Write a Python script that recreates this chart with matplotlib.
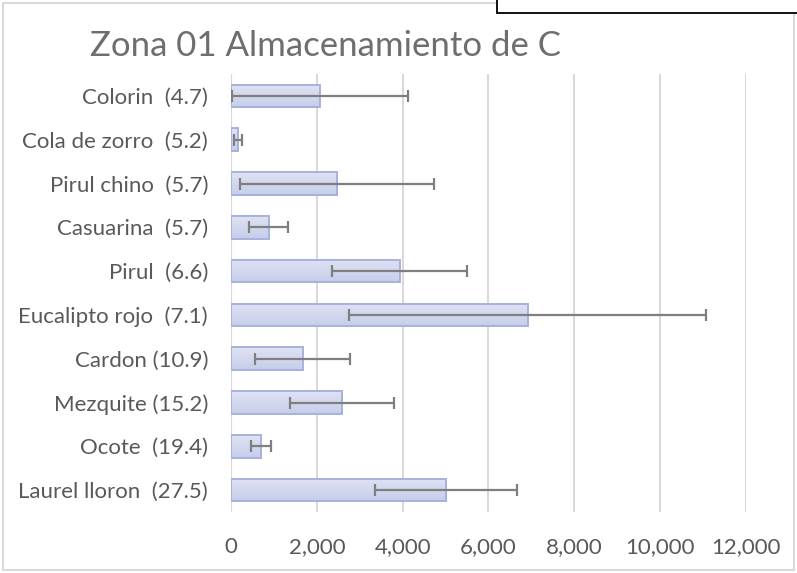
import matplotlib
matplotlib.use("Agg")
import matplotlib.pyplot as plt
import numpy as np
from matplotlib.patches import Rectangle
from matplotlib.ticker import FuncFormatter
from matplotlib.colors import LinearSegmentedColormap

categories = ["Colorin  (4.7)", "Cola de zorro  (5.2)", "Pirul chino  (5.7)", "Casuarina  (5.7)",
              "Pirul  (6.6)", "Eucalipto rojo  (7.1)", "Cardon (10.9)", "Mezquite (15.2)",
              "Ocote  (19.4)", "Laurel lloron  (27.5)"]
values = [2070, 160, 2470, 880, 3930, 6910, 1670, 2590, 700, 5010]
errors = [2050, 100, 2250, 450, 1570, 4150, 1110, 1210, 230, 1660]
xticks = [0, 2000, 4000, 6000, 8000, 10000, 12000]
title = "Zona 01 Almacenamiento de C"

plt.rcParams['font.family'] = ['Lato', 'DejaVu Sans']
W, H = 797, 573
fig = plt.figure(figsize=(W/100, H/100), dpi=100)

def fx(px): return px / W
def fy(py): return 1 - py / H

ax = fig.add_axes([fx(231), fy(512), fx(746) - fx(231), fy(74) - fy(512)])
y = np.arange(len(categories))
bars = ax.barh(y, values, height=0.52, color='none', edgecolor='#a6b2dd', linewidth=1.4, zorder=3)
grad = np.linspace(0, 1, 64).reshape(-1, 1)
cmap = LinearSegmentedColormap.from_list('g', ['#dfe3f3', '#c6cdea'])
for b in bars:
    x0, y0 = b.get_x(), b.get_y()
    w, h = b.get_width(), b.get_height()
    im = ax.imshow(grad, extent=(x0, x0 + w, y0 + h, y0), cmap=cmap, aspect='auto', zorder=2,
                   interpolation='bilinear')
    im.set_clip_path(b)
ax.errorbar(values, y, xerr=errors, fmt='none', ecolor='#7f7f7f', elinewidth=1.6,
            capsize=4, capthick=1.6, zorder=4)

ax.set_xlim(0, 12000)
ax.set_ylim(len(categories) - 0.5, -0.5)
ax.set_xticks(xticks)
ax.xaxis.set_major_formatter(FuncFormatter(lambda v, p: f"{int(v):,}"))
ax.set_yticks(y)
ax.set_yticklabels(categories)
ax.grid(axis='x', color='#d9d9d9', linewidth=1.5, zorder=0)
ax.set_axisbelow(True)
for s in ax.spines.values():
    s.set_visible(False)
ax.axvline(0, color='#d9d9d9', linewidth=1.5, zorder=1)
ax.tick_params(axis='both', length=0, colors='#595959', labelsize=16)
ax.tick_params(axis='x', pad=18)
ax.tick_params(axis='y', pad=16.5)

fig.text(fx(90), fy(46), title, ha='left', va='center', fontsize=25, color='#6e6e6e')

# chart border
fig.add_artist(Rectangle((fx(3), fy(570)), fx(794) - fx(3), fy(3) - fy(570), transform=fig.transFigure,
                         fill=False, edgecolor='#d9d9d9', linewidth=1.5))
# black box at top right
fig.add_artist(Rectangle((fx(497), fy(13)), fx(800) - fx(497), fy(-5) - fy(13), transform=fig.transFigure,
                         facecolor='white', edgecolor='black', linewidth=1.3, zorder=10))

fig.savefig("out.png", dpi=100)
